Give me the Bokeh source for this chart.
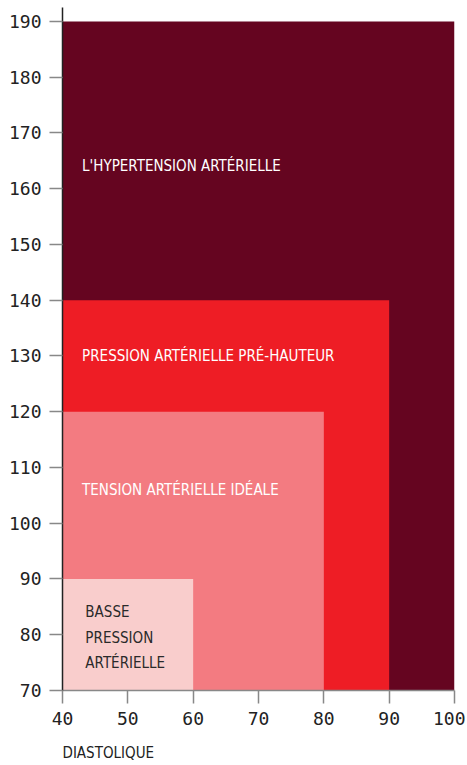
from bokeh.plotting import figure
from bokeh.models import FixedTicker, Range1d, Title
from bokeh.core.properties import value
from bokeh.embed import file_html
from bokeh.resources import INLINE

# Data
categories = ["L'HYPERTENSION ARTÉRIELLE", "PRESSION ARTÉRIELLE PRÉ-HAUTEUR",
              "TENSION ARTÉRIELLE IDÉALE", "BASSE\nPRESSION\nARTÉRIELLE"]
diastolic_min = [40, 40, 40, 40]
diastolic_max = [100, 90, 80, 60]
systolic_min = [70, 70, 70, 70]
systolic_max = [190, 140, 120, 90]
colors = ["#650520", "#EE1D25", "#F37B81", "#F9CDCC"]
text_colors = ["#FFFFFF", "#FFFFFF", "#FFFFFF", "#2A2A2A"]
x_ticks = [40, 50, 60, 70, 80, 90, 100]
y_ticks = [70, 80, 90, 100, 110, 120, 130, 140, 150, 160, 170, 180, 190]

label_x = [43, 43, 43, 43.5]
label_y = [164, 130, 106, 79.5]

COND = "'DejaVu Sans Condensed', 'Roboto', sans-serif"
MONO = "'DejaVu Sans Mono', monospace"

p = figure(frame_width=392, frame_height=683, output_backend="svg",
           toolbar_location=None, x_range=Range1d(40, 100),
           y_range=Range1d(70, 192.5),
           min_border_left=62, min_border_right=11, min_border_top=7,
           min_border_bottom=0)
p.outline_line_color = None
p.xgrid.visible = False
p.ygrid.visible = False
p.background_fill_color = "white"

p.quad(left=diastolic_min, right=diastolic_max, bottom=systolic_min,
       top=systolic_max, fill_color=colors, line_color=None)

for i in range(3):
    p.text(x=[label_x[i]], y=[label_y[i]], text=[categories[i]],
           text_color=text_colors[i], text_font=value(COND),
           text_font_size="15px",
           text_baseline="middle", text_align="left")
p.text(x=[label_x[3]], y=[label_y[3]], text=[categories[3]],
       text_color=text_colors[3], text_font=value(COND),
       text_font_size="15px",
       text_baseline="middle", text_align="left",
       text_line_height=1.4)

for ax in (p.xaxis[0], p.yaxis[0]):
    ax.major_label_text_font = MONO
    ax.major_label_text_font_size = "18px"
    ax.major_label_text_color = "#222222"
    ax.major_tick_out = 13
    ax.major_tick_in = 0
    ax.minor_tick_out = 0
    ax.minor_tick_in = 0
    ax.major_label_standoff = 8
    ax.major_tick_line_color = "#888888"
    ax.major_tick_line_width = 1.5

p.xaxis.ticker = FixedTicker(ticks=x_ticks)
p.yaxis.ticker = FixedTicker(ticks=y_ticks)
p.xaxis.axis_line_color = "#888888"
p.xaxis.axis_line_width = 1.5
p.yaxis.axis_line_color = "#222222"
p.yaxis.axis_line_width = 1.5

t = Title(text="DIASTOLIQUE", align="left", text_font=COND,
          text_font_size="15px", text_font_style="normal",
          text_color="#222222", standoff=29)
p.add_layout(t, "below")

open("out.html", "w").write(file_html(p, INLINE))
